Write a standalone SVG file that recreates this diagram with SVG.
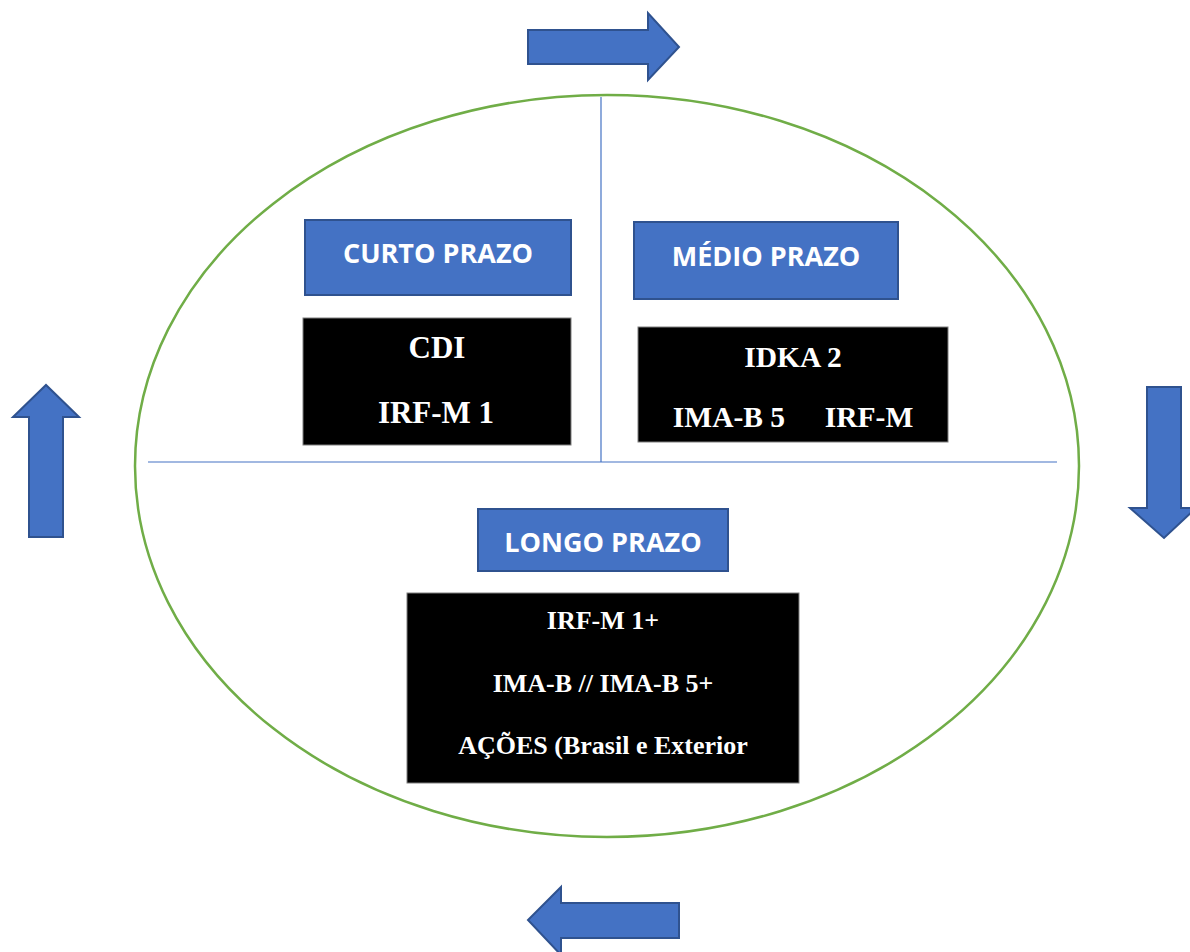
<svg xmlns="http://www.w3.org/2000/svg" width="1190" height="952" viewBox="0 0 1190 952">
<style>
.blue{fill:#4472C4;stroke:#2F528F;stroke-width:2}
.blk{fill:#000;stroke:#7f7f7f;stroke-width:1}
.hd{font-family:"Open Sans","Liberation Sans",sans-serif;font-weight:bold;font-size:27px;fill:#fff;text-anchor:middle;dominant-baseline:central}
.tx{font-family:"Liberation Serif","Times New Roman",serif;font-weight:bold;font-size:31px;fill:#fff;text-anchor:middle}
.tx3{font-family:"Liberation Serif","Times New Roman",serif;font-weight:bold;font-size:29.5px;fill:#fff;text-anchor:middle}
.tx2{font-family:"Liberation Serif","Times New Roman",serif;font-weight:bold;font-size:26px;fill:#fff;text-anchor:middle}
.div{stroke:#4472C4;stroke-width:1.2;fill:none}
</style>
<rect width="1190" height="952" fill="#fff"/>
<g id="cycle">
<ellipse cx="607" cy="466" rx="472" ry="371" fill="none" stroke="#70AD47" stroke-width="2.5"/>
<line class="div" x1="601" y1="97" x2="601" y2="462"/>
<line class="div" x1="148" y1="462" x2="1057" y2="462"/>
</g>
<g id="connectors">
<polygon class="blue" points="528,30 648,30 648,13 679,47 648,80 648,64 528,64"/>
<polygon class="blue" points="1147,387 1181,387 1181,508 1196,508 1164,538 1130,508 1147,508"/>
<polygon class="blue" points="679,903 679,938 561,938 561,955 528,920 561,887 561,903"/>
<polygon class="blue" points="29,537 63,537 63,417 79,417 46,385 13,417 29,417"/>
</g>
<g id="curto">
<rect class="blue" x="305" y="220" width="266" height="75"/>
<text class="hd" x="438" y="252">CURTO PRAZO</text>
</g>
<g id="curto-list">
<rect class="blk" x="303" y="318" width="268" height="127"/>
<text class="tx" x="437" y="358">CDI</text>
<text class="tx" x="436" y="423">IRF-M 1</text>
</g>
<g id="medio">
<rect class="blue" x="634" y="222" width="264" height="77"/>
<text class="hd" x="766" y="255">MÉDIO PRAZO</text>
</g>
<g id="medio-list">
<rect class="blk" x="638" y="327" width="310" height="115"/>
<text class="tx3" x="793" y="367">IDKA 2</text>
<text class="tx3" x="729" y="427">IMA-B 5</text>
<text class="tx3" x="869" y="427">IRF-M</text>
</g>
<g id="longo">
<rect class="blue" x="478" y="509" width="250" height="62"/>
<text class="hd" x="603" y="541">LONGO PRAZO</text>
</g>
<g id="longo-list">
<rect class="blk" x="407" y="593" width="392" height="190"/>
<text class="tx2" x="603" y="629">IRF-M 1+</text>
<text class="tx2" x="603" y="692">IMA-B // IMA-B 5+</text>
<text class="tx2" x="603" y="754">AÇÕES (Brasil e Exterior</text>
</g>
</svg>
